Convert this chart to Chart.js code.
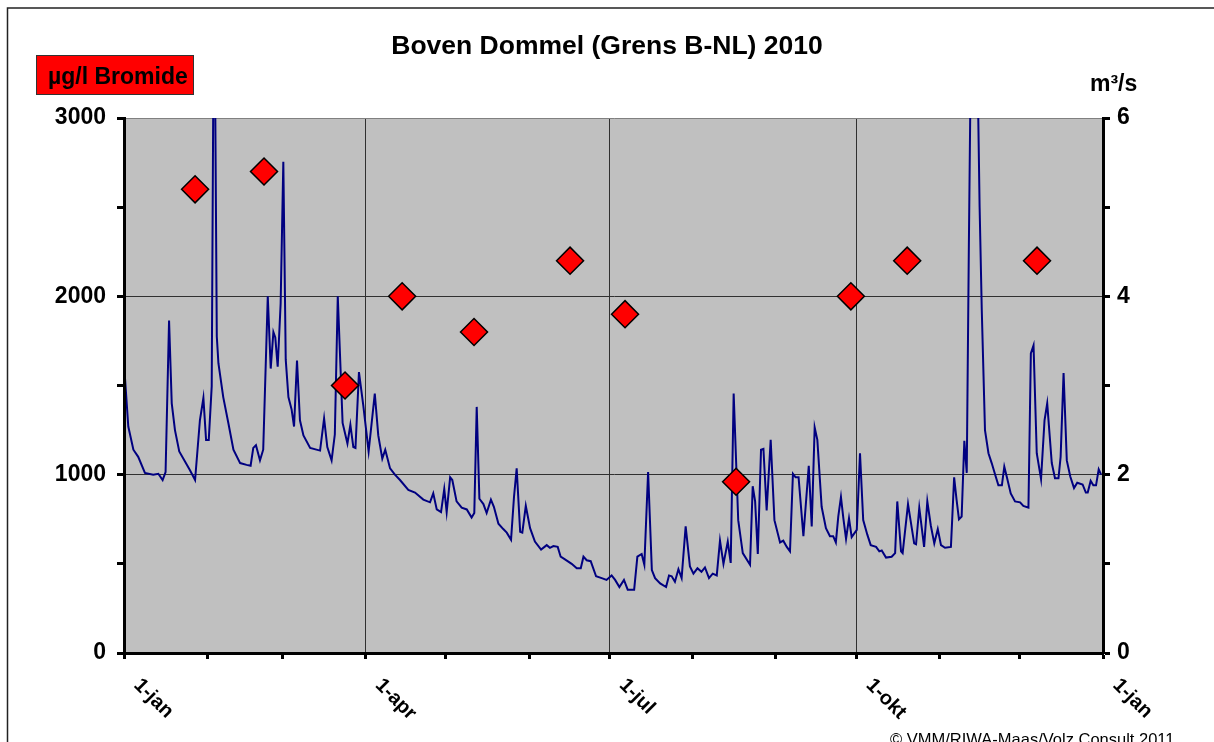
<!DOCTYPE html>
<html>
<head>
<meta charset="utf-8">
<title>Boven Dommel (Grens B-NL) 2010</title>
<script src="https://cdn.jsdelivr.net/npm/chart.js@4.4.1/dist/chart.umd.min.js"></script>
<style>
    html, body { margin: 0; padding: 0; background: #ffffff; }
    #grafico   { display: block; }
</style>
</head>
<body>
<canvas id="grafico" width="1214" height="742"></canvas>
<script>
// bromide (µg/l), dag van het jaar
var bromideDagen   = [ 26.5, 52.2, 82.4, 103.7, 130.5, 166.3, 186.8, 228.2, 271, 292, 340.4 ];
var bromideWaarden = [ 2600, 2700, 1500, 2000, 1800, 2200, 1900, 960, 2000, 2200, 2200 ];

// afvoer (m3/s): [dag, waarde]
var debietPunten = [
    [0, 3.25], [1.6, 2.54], [3.5, 2.28], [5.3, 2.20], [7.8, 2.02], [10.9, 2.00], [12.8, 2.01], [14.4, 1.94],
    [15.5, 2.03], [16.8, 3.73], [17.8, 2.80], [19, 2.50], [20.6, 2.26], [24.6, 2.05], [26.5, 1.94], [28.3, 2.61],
    [29.6, 2.86], [30.6, 2.39], [31.6, 2.39], [32.7, 2.99], [33.6, 8.0], [34.6, 3.55], [35.2, 3.25], [37, 2.87],
    [38.9, 2.58], [40.8, 2.28], [43.3, 2.13], [45.7, 2.11], [47.2, 2.10], [48.2, 2.30], [49.2, 2.33], [50.7, 2.16],
    [51.9, 2.28], [53.6, 4.00], [54.7, 3.19], [55.7, 3.60], [56.4, 3.54], [57.3, 3.21], [58.4, 3.92], [59.4, 5.51],
    [60.3, 3.29], [61.3, 2.87], [62.5, 2.73], [63.4, 2.54], [64.5, 3.28], [65.6, 2.61], [66.9, 2.44], [69.4, 2.30],
    [73.1, 2.27], [74.6, 2.63], [75.8, 2.31], [77.4, 2.16], [78.6, 2.45], [79.7, 4.00], [81.5, 2.58], [83.3, 2.35],
    [84.4, 2.56], [85.5, 2.31], [86.3, 2.30], [87.6, 3.15], [89.2, 2.78], [91.2, 2.26], [93.5, 2.91], [94.8, 2.44],
    [96.3, 2.18], [97.4, 2.28], [99.2, 2.07], [101, 2.00], [102.9, 1.94], [106, 1.83], [108.5, 1.80], [111.6, 1.72],
    [114.1, 1.69], [115.3, 1.79], [116.6, 1.61], [118.2, 1.58], [119.4, 1.84], [120.3, 1.58], [121.6, 1.97], [122.4, 1.94],
    [124, 1.70], [125.9, 1.63], [127.8, 1.61], [129.6, 1.52], [130.6, 1.57], [131.5, 2.76], [132.5, 1.73], [134, 1.67],
    [135.2, 1.57], [136.8, 1.72], [137.9, 1.64], [139.6, 1.45], [141.4, 1.39], [142.7, 1.35], [144.3, 1.27], [145.4, 1.75],
    [146.4, 2.07], [147.7, 1.36], [148.5, 1.35], [149.8, 1.65], [151.4, 1.40], [153.2, 1.25], [155.5, 1.16], [157.6, 1.21],
    [158.8, 1.18], [160.1, 1.20], [161.7, 1.19], [162.8, 1.08], [164.4, 1.05], [166.9, 1.00], [168.8, 0.95], [170.3, 0.95],
    [171.3, 1.08], [172.5, 1.04], [174, 1.03], [176, 0.86], [178.1, 0.84], [179.9, 0.82], [181.8, 0.87], [183.1, 0.82],
    [184.7, 0.74], [186.4, 0.82], [187.8, 0.71], [190.2, 0.71], [191.4, 1.08], [193, 1.11], [194, 0.99], [195.4, 2.03],
    [196.8, 0.93], [198, 0.84], [199.9, 0.78], [202.1, 0.74], [203.2, 0.87], [204.2, 0.86], [205.4, 0.80], [206.7, 0.94],
    [207.9, 0.84], [209.4, 1.42], [211, 0.97], [212.3, 0.89], [213.8, 0.95], [215.3, 0.91], [216.6, 0.96], [218.1, 0.84],
    [219.5, 0.89], [221, 0.87], [222.2, 1.26], [223.5, 1.00], [225.1, 1.25], [226.2, 1.01], [227.3, 2.91], [229, 1.49],
    [230.7, 1.12], [233.4, 0.99], [234.4, 1.87], [235.3, 1.70], [236.3, 1.11], [237.5, 2.28], [238.4, 2.29], [239.6, 1.60],
    [241.1, 2.39], [242.5, 1.49], [244.6, 1.24], [245.8, 1.26], [247.1, 1.19], [248.3, 1.14], [249.4, 2.01], [250.4, 1.97],
    [251.5, 1.97], [253.3, 1.31], [255.3, 2.10], [256.4, 1.42], [257.5, 2.53], [258.5, 2.39], [260.1, 1.64], [261.7, 1.40],
    [263.2, 1.31], [264.4, 1.31], [265.4, 1.24], [266.3, 1.53], [267.3, 1.75], [268.2, 1.51], [269.2, 1.28], [270.3, 1.51],
    [271.3, 1.30], [273.2, 1.38], [274.4, 2.24], [275.6, 1.49], [277.1, 1.33], [278.4, 1.21], [280.4, 1.19], [281.6, 1.14],
    [282.5, 1.15], [284.1, 1.07], [286.2, 1.08], [287.5, 1.12], [288.3, 1.70], [289.7, 1.14], [290.3, 1.12], [292.3, 1.67],
    [294.6, 1.23], [295.3, 1.22], [296.5, 1.63], [298.3, 1.19], [299.5, 1.70], [300.8, 1.43], [302.1, 1.23], [303.4, 1.39],
    [304.6, 1.21], [306.1, 1.18], [308.3, 1.19], [309.5, 1.97], [310.4, 1.72], [311.3, 1.50], [312.3, 1.53], [313.3, 2.38],
    [314.2, 2.02], [315, 4.6], [316, 7.5], [317, 8.0], [318, 7.0], [319, 5.0], [319.8, 3.85], [321, 2.50],
    [322.3, 2.24], [323.5, 2.13], [324.8, 2.00], [326, 1.88], [327.3, 1.88], [328.2, 2.09], [329.1, 1.98], [330.6, 1.79],
    [332.2, 1.70], [334.1, 1.69], [335.3, 1.65], [337.2, 1.63], [338.1, 3.36], [339.1, 3.45], [340.3, 2.24], [341.9, 1.95],
    [343.2, 2.61], [344.2, 2.80], [345.9, 2.13], [347.1, 1.96], [348.4, 1.96], [349.2, 2.20], [350.3, 3.14], [351.5, 2.16],
    [352.8, 1.98], [354.2, 1.85], [355.4, 1.91], [357.4, 1.89], [358.6, 1.80], [359.3, 1.80], [360.4, 1.93], [361.4, 1.88],
    [362.4, 1.88], [363.4, 2.06], [364.3, 2.00]
];

// x-as: begin van elke maand, labels alleen per kwartaal
var maandDagen     = [ 0, 31, 59, 90, 120, 151, 181, 212, 243, 273, 304, 334, 365 ];
var kwartaalDagen  = [ 0, 90, 181, 273, 365 ];
var kwartaalLabels = [ "1-jan", "1-apr", "1-jul", "1-okt", "1-jan" ];

var linksTicks = [ 0, 1000, 2000, 3000 ];
var rechtsTicks = [ 0, 2, 4, 6 ];

var FONT = "'Liberation Sans', Arial, Helvetica, sans-serif";

var Grafico = Grafico || function () {
    return {

        extraTekst: {
            id: "extraTekst",

            beforeDraw: function beforeDraw( chart )
            {
                var ctx = chart.ctx,
                    a   = chart.chartArea;

                ctx.save();
                ctx.fillStyle = "#ffffff";
                ctx.fillRect( 0, 0, chart.width, chart.height );
                ctx.strokeStyle = "#222222";
                ctx.lineWidth   = 1.5;
                ctx.strokeRect( 7.5, 8, chart.width + 20, chart.height + 20 );
                ctx.fillStyle = "#c0c0c0";
                ctx.fillRect( a.left, a.top, a.right - a.left, a.bottom - a.top );
                ctx.restore();
            },

            afterDraw: function afterDraw( chart )
            {
                var ctx = chart.ctx,
                    x   = chart.scales.x,
                    i, px;

                ctx.save();
                ctx.fillStyle = "#000000";

                // datum labels schuin naar beneden
                ctx.font         = "bold 20px " + FONT;
                ctx.textAlign    = "left";
                ctx.textBaseline = "top";
                for ( i = 0; i < kwartaalDagen.length; i++ )
                {
                    px = x.getPixelForValue( kwartaalDagen[i] );
                    ctx.save();
                    ctx.translate( px + 20, 675 );
                    ctx.rotate( Math.PI / 4 );
                    ctx.fillText( kwartaalLabels[i], 0, 0 );
                    ctx.restore();
                }

                // eenheid links
                ctx.fillStyle   = "#ff0000";
                ctx.fillRect( 36, 55, 158, 40 );
                ctx.strokeStyle = "#333333";
                ctx.lineWidth   = 1;
                ctx.strokeRect( 36.5, 55.5, 157, 39 );
                ctx.fillStyle    = "#000000";
                ctx.font         = "bold 23px " + FONT;
                ctx.textBaseline = "alphabetic";
                ctx.fillText( "µg/l Bromide", 48, 84 );

                // eenheid rechts
                ctx.fillText( "m³/s", 1090, 91 );

                ctx.font = "16.5px " + FONT;
                ctx.fillText( "© VMM/RIWA-Maas/Volz Consult 2011", 890, 745 );
                ctx.restore();
            }
        },

        maakDatasets: function maakDatasets()
        {
            var bromide = bromideDagen.map( function( d, i ){ return { x: d, y: bromideWaarden[i] }; }),
                debiet  = debietPunten.map( function( p ){ return { x: p[0], y: p[1] }; });

            return [
                {
                    label           : "Bromide",
                    data            : bromide,
                    yAxisID         : "y",
                    showLine        : false,
                    pointStyle      : "rectRot",
                    pointRadius     : 13.5,
                    pointBackgroundColor: "#ff0000",
                    pointBorderColor: "#000000",
                    pointBorderWidth: 1.5
                },
                {
                    label      : "Afvoer",
                    data       : debiet,
                    yAxisID    : "y2",
                    borderColor: "#000080",
                    borderWidth: 2,
                    pointRadius: 0,
                    tension    : 0
                }
            ];
        },

        tekenGrafico: function tekenGrafico()
        {
            var ctx = document.getElementById( "grafico" ).getContext( "2d" );

            this.grafico = new Chart( ctx, {
                type   : "line",
                data   : { datasets: this.maakDatasets() },
                options: {
                    responsive: false,
                    animation : false,
                    events    : [],
                    layout    : { padding: 0 },
                    plugins   : {
                        legend : { display: false },
                        tooltip: { enabled: false },
                        title  : {
                            display: true,
                            text   : "Boven Dommel (Grens B-NL) 2010",
                            color  : "#000000",
                            font   : { family: FONT, size: 26.5, weight: "bold", lineHeight: 1.2 },
                            padding: { top: 31, bottom: 55.2 }
                        }
                    },
                    scales: {
                        x: {
                            type  : "linear",
                            min   : 0,
                            max   : 365,
                            afterBuildTicks: function( s ){ s.ticks = maandDagen.map( function( d ){ return { value: d }; }); },
                            afterFit: function( s ){ s.height = 89; },
                            ticks : { display: false },
                            grid  : {
                                color    : function( c ){ return c.tick && kwartaalDagen.indexOf( c.tick.value ) >= 0 ? "#303030" : "rgba(0,0,0,0)"; },
                                lineWidth: 1,
                                tickColor: "#000000",
                                tickWidth: 3,
                                tickLength: 6
                            },
                            border: { color: "#000000", width: 3, z: 1 }
                        },
                        y: {
                            position: "left",
                            min     : 0,
                            max     : 3000,
                            afterFit: function( s ){ s.width = 124; },
                            ticks   : {
                                stepSize: 500,
                                color   : "#000000",
                                padding : 11,
                                font    : { family: FONT, size: 23, weight: "bold" },
                                callback: function( v ){ return linksTicks.indexOf( v ) >= 0 ? String( v ) : ""; }
                            },
                            grid: {
                                color: function( c ){
                                    if ( !c.tick ) return "rgba(0,0,0,0)";
                                    if ( c.tick.value === 3000 ) return "#808080";
                                    return ( c.tick.value === 1000 || c.tick.value === 2000 ) ? "#303030" : "rgba(0,0,0,0)";
                                },
                                lineWidth : 1,
                                tickColor : "#000000",
                                tickWidth : 3,
                                tickLength: 7
                            },
                            border: { color: "#000000", width: 3, z: 1 }
                        },
                        y2: {
                            position: "right",
                            min     : 0,
                            max     : 6,
                            afterFit: function( s ){ s.width = 111; },
                            ticks   : {
                                stepSize: 1,
                                color   : "#000000",
                                padding : 7,
                                font    : { family: FONT, size: 23, weight: "bold" },
                                callback: function( v ){ return rechtsTicks.indexOf( v ) >= 0 ? String( v ) : ""; }
                            },
                            grid: {
                                drawOnChartArea: false,
                                tickColor : "#000000",
                                tickWidth : 3,
                                tickLength: 7
                            },
                            border: { color: "#000000", width: 3, z: 1 }
                        }
                    }
                },
                plugins: [ this.extraTekst ]
            } );
        },

        init: function init()
        {
            this.tekenGrafico();
        }
    };
}();

Grafico.init();
</script>
</body>
</html>
